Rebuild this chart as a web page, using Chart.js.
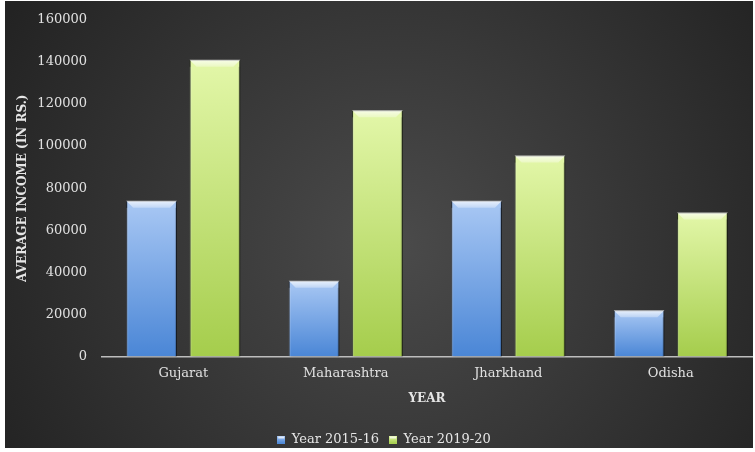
<!DOCTYPE html>
<html lang="en">

<head>
  <meta charset="UTF-8" />
  <title>Average Income</title>
  <style>
    body {
      margin: 0;
      background: #fff;
    }

    .box {
      position: absolute;
      left: 5px;
      top: 1px;
      width: 748px;
      height: 447px;
      overflow: hidden;
    }

    .inner {
      position: absolute;
      left: 0;
      top: -4px;
      width: 748px;
      height: 451px;
    }
  </style>
  <script src="https://cdn.jsdelivr.net/npm/chart.js"></script>
</head>

<body>
  <div class="box">
    <div class="inner">
      <canvas id="chart"></canvas>
    </div>
  </div>
</body>

</html>
<script>
  const states = ['Gujarat', 'Maharashtra', 'Jharkhand', 'Odisha']
  const year1516 = [74000, 36000, 74000, 22000]
  const year1920 = [141000, 117000, 95500, 68500]
  const yTicks = [0, 20000, 40000, 60000, 80000, 100000, 120000, 140000, 160000]

  const serif = "'DejaVu Serif', serif"

  // vertical gradient for each bar, light at top, darker at the bottom
  function barFill(light, dark) {
    return (ctx) => {
      const chart = ctx.chart
      if (!chart.chartArea || ctx.type !== 'data') return dark
      const y = chart.scales.y
      const top = y.getPixelForValue(ctx.raw)
      const bottom = y.getPixelForValue(0)
      const g = chart.ctx.createLinearGradient(0, top, 0, bottom)
      g.addColorStop(0, light)
      g.addColorStop(1, dark)
      return g
    }
  }

  function legendBox(light, dark) {
    const c = document.createElement('canvas')
    c.width = 8
    c.height = 8
    const x = c.getContext('2d')
    const g = x.createLinearGradient(0, 0, 0, 8)
    g.addColorStop(0, light)
    g.addColorStop(1, dark)
    x.fillStyle = g
    x.fillRect(0, 0, 8, 8)
    x.fillStyle = 'rgba(255,255,255,0.7)'
    x.fillRect(1, 1, 6, 2)
    return c
  }

  const background = {
    id: 'background',
    beforeDraw(chart) {
      const { ctx, width, height } = chart
      const g = ctx.createRadialGradient(width * 0.52, height * 0.55, 10, width * 0.52, height * 0.55, width * 0.6)
      g.addColorStop(0, '#4a4a4a')
      g.addColorStop(1, '#232323')
      ctx.save()
      ctx.fillStyle = g
      ctx.fillRect(0, 0, width, height)
      ctx.restore()
    }
  }

  // shadow behind bars
  const shadow = {
    id: 'shadow',
    beforeDatasetsDraw(chart) {
      chart.ctx.save()
      chart.ctx.shadowColor = 'rgba(0,0,0,0.55)'
      chart.ctx.shadowBlur = 4
      chart.ctx.shadowOffsetX = 1
      chart.ctx.shadowOffsetY = 1
    },
    afterDatasetsDraw(chart) {
      chart.ctx.restore()
    }
  }

  // bevelled top edge on each bar
  const bevel = {
    id: 'bevel',
    afterDatasetsDraw(chart) {
      const ctx = chart.ctx
      chart.data.datasets.forEach((ds, i) => {
        chart.getDatasetMeta(i).data.forEach((bar) => {
          const l = bar.x - bar.width / 2
          const r = bar.x + bar.width / 2
          const t = bar.y
          const b = 7
          ctx.save()
          const g = ctx.createLinearGradient(0, t, 0, t + b)
          g.addColorStop(0, 'rgba(255,255,255,0.75)')
          g.addColorStop(1, 'rgba(255,255,255,0.3)')
          ctx.fillStyle = g
          ctx.beginPath()
          ctx.moveTo(l, t)
          ctx.lineTo(r, t)
          ctx.lineTo(r - b, t + b)
          ctx.lineTo(l + b, t + b)
          ctx.closePath()
          ctx.fill()
          ctx.fillStyle = 'rgba(255,255,255,0.15)'
          ctx.fillRect(l, t + b, 2, bar.base - t - b)
          ctx.fillStyle = 'rgba(0,0,0,0.12)'
          ctx.fillRect(r - 2, t + b, 2, bar.base - t - b)
          ctx.restore()
        })
      })
    }
  }

  new Chart(document.querySelector('#chart'), {
    type: 'bar',
    data: {
      labels: states,
      datasets: [{
        label: 'Year 2015-16',
        data: year1516,
        backgroundColor: barFill('#a9c8f4', '#4a86d6'),
        borderColor: 'rgba(20,40,70,0.5)',
        borderWidth: 1,
        barPercentage: 0.8,
        categoryPercentage: 0.78
      }, {
        label: 'Year 2019-20',
        data: year1920,
        backgroundColor: barFill('#e3f7a9', '#a5cd4c'),
        borderColor: 'rgba(40,60,10,0.5)',
        borderWidth: 1,
        barPercentage: 0.8,
        categoryPercentage: 0.78
      }]
    },
    plugins: [background, shadow, bevel],
    options: {
      responsive: true,
      maintainAspectRatio: false,
      animation: false,
      layout: { padding: { top: 0, right: 1, bottom: -8, left: 11 } },
      plugins: {
        tooltip: { enabled: false },
        legend: {
          position: 'bottom',
          labels: {
            color: '#e6e6e6',
            font: { family: serif, size: 13 },
            boxWidth: 8,
            boxHeight: 8,
            padding: 10,
            usePointStyle: true,
            generateLabels(chart) {
              return [
                { text: 'Year 2015-16', pointStyle: legendBox('#a9c8f4', '#4a86d6'), fontColor: '#e6e6e6', datasetIndex: 0 },
                { text: 'Year 2019-20', pointStyle: legendBox('#e3f7a9', '#a5cd4c'), fontColor: '#e6e6e6', datasetIndex: 1 }
              ]
            }
          }
        }
      },
      scales: {
        x: {
          grid: { display: false, drawTicks: false },
          border: { color: '#bdbdbd', width: 1.5 },
          ticks: { color: '#e0e0e0', font: { family: serif, size: 13, lineHeight: 1 }, padding: 11 },
          title: {
            display: true,
            text: 'YEAR',
            color: '#e6e6e6',
            font: { family: serif, size: 12, weight: 'bold' },
            padding: { top: 0, bottom: 17 }
          }
        },
        y: {
          min: 0,
          max: 160000,
          afterBuildTicks(axis) {
            axis.ticks = yTicks.map((v) => ({ value: v }))
          },
          afterFit(axis) {
            axis.width = 86
          },
          grid: { display: false, drawTicks: false },
          border: { display: false },
          ticks: {
            color: '#e0e0e0',
            font: { family: serif, size: 13 },
            padding: 15,
            callback: (v) => String(v)
          },
          title: {
            display: true,
            text: 'AVERAGE INCOME (IN RS.)',
            color: '#e6e6e6',
            font: { family: serif, size: 12, weight: 'bold' },
            padding: { top: 0, bottom: 6 }
          }
        }
      }
    }
  })
</script>
